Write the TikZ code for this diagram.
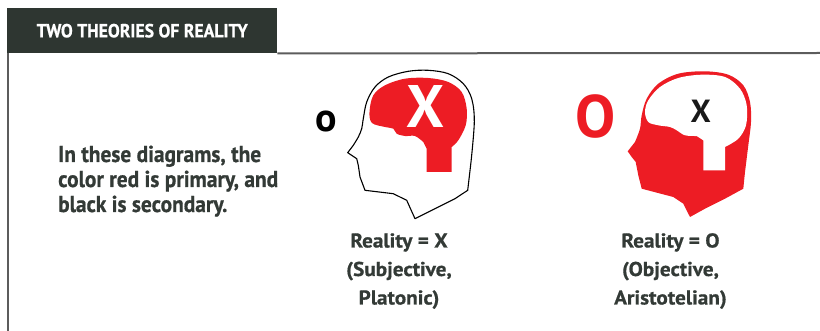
\documentclass[tikz,border=0pt]{standalone}
\usepackage{fontspec}
\newfontfamily\condfont{PT Sans}[FakeStretch=0.93, BoldFeatures={FakeBold=0.7}]
\newfontfamily\labelfont{PT Sans}[FakeStretch=1.06, BoldFeatures={FakeBold=0.7}]
\newfontfamily\wordfont{PT Sans}
\definecolor{titlebg}{HTML}{2E3631}
\definecolor{framecol}{HTML}{5C5C5C}
\definecolor{inkcol}{HTML}{333A36}
\definecolor{headred}{HTML}{ED1C24}
\tikzset{
  caption/.style={inner sep=0pt, text=inkcol, font=\condfont\bfseries},
  headlabel/.style={inner sep=0pt, text=inkcol, font=\labelfont\bfseries},
  glyph/.style={inner sep=0pt, font=\wordfont\bfseries},
  frameline/.style={draw=framecol, line width=2pt},
}
\begin{document}
\begin{tikzpicture}[x=1pt,y=-1pt]
\useasboundingbox (0,0) rectangle (820,331);

% title tab and the frame lines leaving it
\node[fill=titlebg, minimum width=270pt, minimum height=45pt, anchor=north west,
      inner sep=0pt, text=white, font=\condfont\bfseries\fontsize{19}{19}\selectfont]
      (title) at (7,8) {TWO THEORIES OF REALITY};
\coordinate (topend) at (820,53);
\coordinate (leftend) at (8,331);
\draw[frameline] (title.south east) -- (topend);
\draw[frameline] ([xshift=1pt]title.south west) -- (leftend);

% explanatory paragraph
\node[caption, anchor=base west] (para) at (58,162)
  {\parbox[t]{240pt}{\fontsize{23}{25}\selectfont\raggedright
   In these diagrams, the\\color red is primary, and\\black is secondary.}};

% left head: outline with a red brain (subjective)
\fill[headred] (451.7,172) -- (426.7,172) -- (426.7,148.7)
  -- plot[smooth, tension=0.55] coordinates {(423.3,142) (415,136) (405,136) (396.7,133.7)
     (393.3,128.7) (385,127) (372,123) (369.5,112) (373.3,95.3) (385,85.3) (405,78.7)
     (428.3,78) (448.3,82) (461.7,92) (466.7,108.7) (465.7,125.3) (458.3,140.3) (451.7,147)}
  -- cycle;
\draw[line width=1.1pt, line join=round] (347.7,152.7) -- (356.7,158.7) -- (358.3,165.3)
  -- (360,177) -- (365,190.3) -- (393.3,193.7) -- (406.7,200.3) -- (415,218.7)
  -- (435,208.7) -- (455,198.7) -- (467.7,190.3)
  -- plot[smooth, tension=0.55] coordinates {(471,162) (474.3,122) (471.7,98.7) (463.3,83.7)
     (448.3,73.7) (428.3,70.3) (408.3,71.3) (388.3,77) (375,87) (366.7,102) (363.3,118.7)
     (361.7,128.7) (358.3,137) (353.3,145.3)}
  -- cycle;
\node[glyph, text=white, font=\wordfont\bfseries\fontsize{60}{60}\selectfont] (xin) at (425.8,107) {X};
\node[glyph, text=black, font=\wordfont\bfseries\fontsize{40}{40}\selectfont] (oout) at (326.2,121.7) {o};

% right head: red head with a white brain (objective)
\fill[headred] (627.7,151.3) -- (631.7,157) -- (635.7,162) -- (638.3,175.3) -- (641.7,188.7)
  -- (673.3,197) -- (683.3,203.7) -- (690,217) -- (705,208.7) -- (725,198.7) -- (743.3,188.7)
  -- plot[smooth, tension=0.55] coordinates {(745,172) (748.3,145.3) (751,122) (750,102)
     (743.3,85.3) (728.3,74.7) (705,71.3) (678.3,73.7) (658.3,83.7) (646.7,98.7) (641.7,115.3)
     (640,128.7) (635,142)}
  -- cycle;
\fill[white] (725,170.3) -- (703.3,170.3) -- (703.3,140.3)
  -- plot[smooth, tension=0.55] coordinates {(696.7,136) (685,135.3) (676.7,130.3) (670,127)
     (658.3,125.3) (648.3,122) (645,112) (648.3,100.3) (660,87) (678.3,78) (701.7,74.7)
     (725,77) (740,88.7) (746.7,105.3) (746,125.3) (738.3,138.7) (725,147)}
  -- cycle;
\node[glyph, text=black!90, font=\wordfont\bfseries\fontsize{32}{32}\selectfont] (xout) at (700.8,111) {X};
\node[glyph, text=headred, font=\wordfont\bfseries\fontsize{60}{60}\selectfont] (oin) at (596,116.5) {O};

% captions under the heads
\node[headlabel, anchor=base] (capleft) at (399,247.5)
  {\parbox[t]{170pt}{\centering\fontsize{20}{28.5}\selectfont
   Reality = X\\(Subjective,\\Platonic)}};
\node[headlabel, anchor=base] (capright) at (670.5,247.5)
  {\parbox[t]{170pt}{\centering\fontsize{20}{28.5}\selectfont
   Reality = O\\(Objective,\\Aristotelian)}};
\end{tikzpicture}
\end{document}
